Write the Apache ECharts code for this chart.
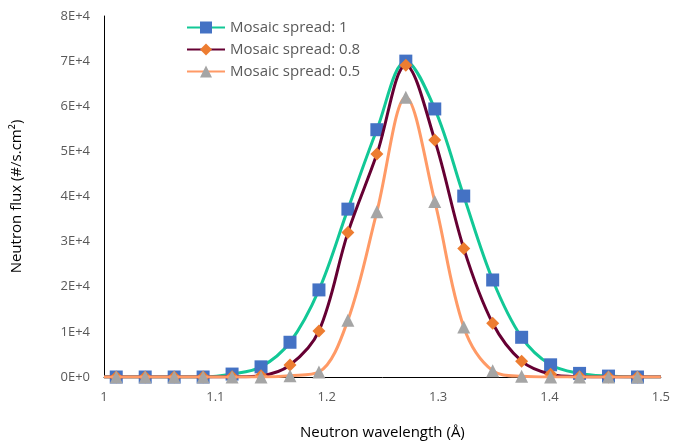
<!DOCTYPE html>
<html><head><meta charset="utf-8">
<script src="https://cdn.jsdelivr.net/npm/echarts@6/dist/echarts.min.js"></script>
<style>html,body{margin:0;padding:0;background:#fff}#c{width:673px;height:446px}</style>
</head><body><div id="c"></div>
<script>
const wavelengths = [1.011,1.037,1.063,1.089,1.115,1.141,1.167,1.193,1.219,1.245,1.271,1.297,1.323,1.349,1.375,1.401,1.427,1.453,1.479];
const spread1  = [0,0,0,0,650,2250,7700,19300,37200,54800,70000,59400,40100,21500,8800,2700,800,200,0];
const spread08 = [0,0,0,0,50,300,2650,10200,32000,49400,69100,52500,28500,11900,3500,600,50,0,0];
const spread05 = [0,0,0,0,0,0,300,1100,12600,36600,62000,38900,11100,1400,150,0,0,0,0];
const seriesNames = ['Mosaic spread: 1','Mosaic spread: 0.8','Mosaic spread: 0.5'];
const xTicks = {min:1, max:1.5, interval:0.1};
const yTicks = {min:0, max:80000, interval:10000};
const lineEnds = [1.0, 1.5];

function build(vals){
  const d = [{value:[lineEnds[0],0], symbol:'none'}];
  wavelengths.forEach((x,i)=>d.push([x, vals[i]]));
  d.push({value:[lineEnds[1],0], symbol:'none'});
  return d;
}
const styles = [
  {line:'#12C896', mark:'#4472C4', symbol:'rect', size:13},
  {line:'#660033', mark:'#ED7D31', symbol:'diamond', size:13},
  {line:'#FF9A66', mark:'#A5A5A5', symbol:'triangle', size:13}
];
const allVals = [spread1, spread08, spread05];
const chart = echarts.init(document.getElementById('c'));
chart.setOption({
  animation:false,
  textStyle:{fontFamily:'Open Sans, Noto Sans, sans-serif'},
  grid:{left:104, right:12, top:16, bottom:69},
  legend:{
    orient:'vertical', left:181, top:15, itemGap:7, itemWidth:38, itemHeight:15,
    textStyle:{color:'#595959', fontSize:15, fontFamily:'Open Sans, sans-serif'},
    data: seriesNames
  },
  xAxis:{
    type:'value', min:xTicks.min, max:xTicks.max, interval:xTicks.interval,
    axisLine:{lineStyle:{color:'#000', width:1}}, axisTick:{show:false}, splitLine:{show:false},
    axisLabel:{color:'#595959', fontSize:13, margin:14, formatter:v=>String(+v.toFixed(1))},
    name:'Neutron wavelength (Å)', nameLocation:'middle', nameGap:48,
    nameTextStyle:{color:'#000', fontSize:15}
  },
  yAxis:{
    type:'value', min:yTicks.min, max:yTicks.max, interval:yTicks.interval,
    axisLine:{show:true, lineStyle:{color:'#000', width:1}}, axisTick:{show:false}, splitLine:{show:false},
    axisLabel:{color:'#595959', fontSize:13, margin:14, formatter:v=>{
      if(v===0) return '0E+0';
      const e = Math.floor(Math.log10(v));
      return Math.round(v/Math.pow(10,e))+'E+'+e;
    }},
    name:'Neutron flux (#/s.cm²)', nameLocation:'middle', nameGap:80,
    nameTextStyle:{color:'#000', fontSize:15}
  },
  series: seriesNames.map((n,i)=>({
    name:n, type:'line', smooth:0.35,
    data: build(allVals[i]),
    symbol: styles[i].symbol, symbolSize: styles[i].size, showAllSymbol:true,
    lineStyle:{color:styles[i].line, width:3},
    itemStyle:{color:styles[i].mark, borderWidth:0},
    z: 2+i
  }))
});
</script></body></html>
